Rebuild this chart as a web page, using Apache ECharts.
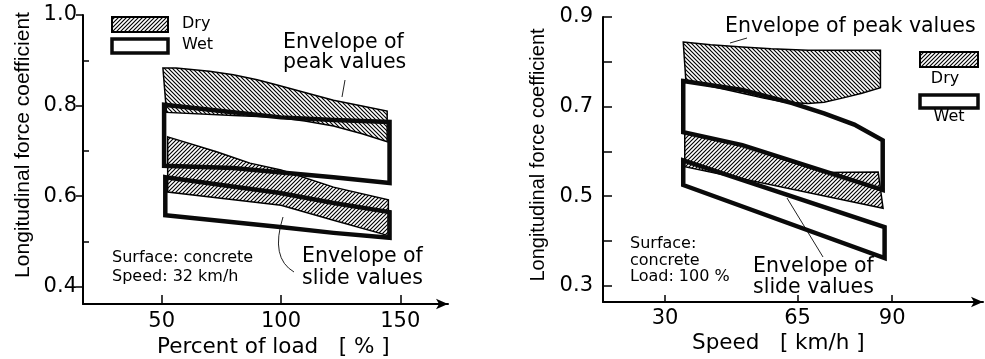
<!DOCTYPE html>
<html>
<head>
<meta charset="utf-8">
<script src="https://cdn.jsdelivr.net/npm/echarts@6/dist/echarts.min.js"></script>
<style>
html,body{margin:0;padding:0;background:#fff;}
#chart{width:985px;height:359px;}
</style>
</head>
<body>
<div id="chart"></div>
<script>
// ---------- Left panel: Percent of load (Speed 32 km/h) ----------
const loadTicks = [50, 100, 150];
const loadMajorY = [0.4, 0.6, 0.8, 1.0];
const loadMinorY = [0.5, 0.7, 0.9];

const loadDryPeakUpper = [[50.5,0.883],[56,0.883],[70,0.876],[80,0.868],[90,0.857],[98,0.846],[110,0.829],[122,0.812],[134,0.799],[144.5,0.788]];
const loadDryPeakLower = [[52,0.785],[80,0.778],[98,0.774],[110,0.766],[122,0.755],[134,0.738],[144.5,0.720]];
const loadWetPeakUpper = [[51,0.802],[75,0.788],[100,0.774],[122,0.768],[145.5,0.764]];
const loadWetPeakLower = [[51,0.667],[80,0.662],[99,0.653],[122,0.642],[145.5,0.629]];

const loadDrySlideUpper = [[52.5,0.731],[73,0.698],[87,0.673],[100,0.658],[122,0.620],[145,0.592]];
const loadDrySlideLower = [[52.5,0.609],[100,0.580],[122,0.547],[145,0.513]];
const loadWetSlideUpper = [[51.5,0.642],[99.6,0.607],[122,0.585],[145.5,0.565]];
const loadWetSlideLower = [[51.5,0.558],[99.6,0.532],[122,0.519],[145.5,0.508]];

// ---------- Right panel: Speed (Load 100 %) ----------
const speedTicks = [30, 65, 90];
const speedMajorY = [0.3, 0.5, 0.7, 0.9];
const speedAllY = [0.3, 0.4, 0.5, 0.6, 0.7, 0.8, 0.9];

const speedDryPeakUpper = [[34.8,0.844],[42,0.838],[50.4,0.833],[58,0.829],[67.8,0.826],[86.9,0.826]];
const speedDryPeakLower = [[35.5,0.757],[43,0.744],[50.4,0.730],[56,0.719],[61.7,0.710],[67.8,0.707],[72,0.710],[76.8,0.719],[82,0.730],[86.9,0.742]];
const speedWetPeakUpper = [[34.8,0.757],[50.4,0.737],[63.6,0.708],[72,0.685],[80,0.660],[87.5,0.625]];
const speedWetPeakLower = [[34.8,0.643],[50.4,0.614],[87.5,0.514]];

const speedDrySlideUpper = [[35.2,0.641],[50.4,0.613],[72,0.553],[86.3,0.554]];
const speedDrySlideLower = [[35.2,0.566],[87.6,0.473]];
const speedWetSlideUpper = [[34.8,0.580],[88,0.431]];
const speedWetSlideLower = [[34.8,0.525],[88,0.362]];

// ---------- helpers ----------
function makeHatch(dir, size, color, lw) {
  const c = document.createElement('canvas');
  c.width = size; c.height = size;
  const ctx = c.getContext('2d');
  ctx.strokeStyle = color; ctx.lineWidth = lw;
  ctx.beginPath();
  if (dir === '/') {
    ctx.moveTo(0, size); ctx.lineTo(size, 0);
    ctx.moveTo(-1, 1); ctx.lineTo(1, -1);
    ctx.moveTo(size - 1, size + 1); ctx.lineTo(size + 1, size - 1);
  } else {
    ctx.moveTo(0, 0); ctx.lineTo(size, size);
    ctx.moveTo(-1, size - 1); ctx.lineTo(1, size + 1);
    ctx.moveTo(size - 1, -1); ctx.lineTo(size + 1, 1);
  }
  ctx.stroke();
  return { image: c, repeat: 'repeat' };
}
const hatchBack = makeHatch('\\', 4, '#000', 1.15);
const hatchFwd = makeHatch('/', 4, '#000', 1.15);

function bandSeries(name, bands, xi, yi, kind) {
  return {
    type: 'custom', name: name, coordinateSystem: 'cartesian2d',
    xAxisIndex: xi, yAxisIndex: yi, clip: false, silent: true,
    data: bands.map(b => b.upper[0]),
    renderItem: function (params, api) {
      const b = bands[params.dataIndex];
      const pts = b.upper.concat(b.lower.slice().reverse()).map(p => api.coord(p));
      const style = kind === 'dry'
        ? { fill: b.hatch, stroke: '#000', lineWidth: 1.5, lineJoin: 'miter' }
        : { fill: 'none', stroke: '#0a0a0a', lineWidth: 4.5, lineJoin: 'miter' };
      return { type: 'polygon', shape: { points: pts }, style: style };
    }
  };
}

const FONT = "'DejaVu Sans', sans-serif";
const FONT2 = "'Liberation Sans', Arial, sans-serif";

function xAxisCfg(gi, min, max, ticks, tickLen, margin) {
  return {
    gridIndex: gi, type: 'value', min: min, max: max,
    axisLine: { show: true, lineStyle: { color: '#000', width: 2 }, symbol: ['none', 'arrow'], symbolSize: [8, 12] },
    axisTick: { show: true, inside: true, length: tickLen, customValues: ticks, lineStyle: { color: '#000', width: 1.5 } },
    axisLabel: { customValues: ticks, margin: margin, color: '#000', fontSize: 21, fontFamily: FONT },
    splitLine: { show: false }
  };
}
function yAxisCfg(gi, min, max, ticks, labels, inside, tickLen, showLine, showLabel, margin) {
  return {
    gridIndex: gi, type: 'value', min: min, max: max, position: 'left',
    axisLine: { show: showLine, lineStyle: { color: '#000', width: 2 } },
    axisTick: { show: true, inside: inside, length: tickLen, customValues: ticks, lineStyle: { color: '#000', width: 1.5 } },
    axisLabel: { show: showLabel, customValues: labels, margin: margin, color: '#000', fontSize: 21, fontFamily: FONT,
      formatter: v => Number(v).toFixed(1) },
    splitLine: { show: false }
  };
}

const leftDry = [
  { upper: loadDryPeakUpper, lower: loadDryPeakLower, hatch: hatchBack },
  { upper: loadDrySlideUpper, lower: loadDrySlideLower, hatch: hatchFwd }
];
const leftWet = [
  { upper: loadWetPeakUpper, lower: loadWetPeakLower },
  { upper: loadWetSlideUpper, lower: loadWetSlideLower }
];
const rightDry = [
  { upper: speedDryPeakUpper, lower: speedDryPeakLower, hatch: hatchBack },
  { upper: speedDrySlideUpper, lower: speedDrySlideLower, hatch: hatchFwd }
];
const rightWet = [
  { upper: speedWetPeakUpper, lower: speedWetPeakLower },
  { upper: speedWetSlideUpper, lower: speedWetSlideLower }
];

function txt(x, y, s, size, align) {
  return {
    type: 'text', silent: true,
    style: { x: x, y: y, text: s, fontSize: size, fontFamily: FONT, fill: '#000', textAlign: align || 'left', textVerticalAlign: 'middle' }
  };
}

const chart = echarts.init(document.getElementById('chart'), null, { renderer: 'canvas' });
chart.setOption({
  animation: false,
  backgroundColor: '#fff',
  grid: [
    { left: 83, top: 15, width: 365, height: 289 },
    { left: 603, top: 17, width: 380, height: 285 }
  ],
  xAxis: [
    xAxisCfg(0, 17, 170, loadTicks, 9, 7),
    xAxisCfg(1, 13.6, 114, speedTicks, 7, 6)
  ],
  yAxis: [
    yAxisCfg(0, 0.362, 1.0, loadMajorY, loadMajorY, false, 7, true, true, 6),
    yAxisCfg(0, 0.362, 1.0, loadMinorY, [], true, 6, false, false, 6),
    yAxisCfg(1, 0.264, 0.9, speedAllY, speedMajorY, true, 9, true, true, 10)
  ],
  series: [
    bandSeries('Dry', leftDry, 0, 0, 'dry'),
    bandSeries('Wet', leftWet, 0, 0, 'wet'),
    bandSeries('Dry', rightDry, 1, 2, 'dry'),
    bandSeries('Wet', rightWet, 1, 2, 'wet')
  ],
  graphic: [
    // axis titles
    { type: 'text', silent: true, x: 23, y: 145, rotation: Math.PI / 2,
      style: { x: 0, y: 0, text: 'Longitudinal force coefficient', fontSize: 21, fontFamily: FONT2, fill: '#000', textAlign: 'center', textVerticalAlign: 'middle' } },
    { type: 'text', silent: true, x: 538, y: 155, rotation: Math.PI / 2,
      style: { x: 0, y: 0, text: 'Longitudinal force coefficient', fontSize: 20, fontFamily: FONT2, fill: '#000', textAlign: 'center', textVerticalAlign: 'middle' } },
    txt(157, 347, 'Percent of load   [ % ]', 21.5),
    txt(692, 343, 'Speed   [ km/h ]', 21.5),
    // annotations left
    txt(283, 43, 'Envelope of', 20.5),
    txt(283, 63, 'peak values', 20.5),
    txt(302, 257, 'Envelope of', 20.5),
    txt(302, 279, 'slide values', 20.5),
    txt(112, 258, 'Surface: concrete', 16),
    txt(112, 277, 'Speed: 32 km/h', 16),
    // annotations right
    txt(725, 27, 'Envelope of peak values', 20.5),
    txt(753, 267, 'Envelope of', 20.5),
    txt(753, 288, 'slide values', 20.5),
    txt(630, 244, 'Surface:', 16),
    txt(630, 261, 'concrete', 16),
    txt(630, 277, 'Load: 100 %', 16),
    // leader lines
    { type: 'line', silent: true, shape: { x1: 345, y1: 80, x2: 342, y2: 97 }, style: { stroke: '#222', lineWidth: 1 } },
    { type: 'bezierCurve', silent: true, shape: { x1: 283, y1: 217, cpx1: 270, cpy1: 258, x2: 294, y2: 272 }, style: { stroke: '#222', lineWidth: 1, fill: 'none' } },
    { type: 'line', silent: true, shape: { x1: 730, y1: 43, x2: 747, y2: 38 }, style: { stroke: '#222', lineWidth: 1 } },
    { type: 'line', silent: true, shape: { x1: 787, y1: 198, x2: 823, y2: 257 }, style: { stroke: '#222', lineWidth: 1 } },
    // legend left
    { type: 'rect', silent: true, shape: { x: 112, y: 17, width: 56, height: 15 }, style: { fill: hatchFwd, stroke: '#000', lineWidth: 2 } },
    txt(182, 24, 'Dry', 16),
    { type: 'rect', silent: true, shape: { x: 112, y: 39, width: 56, height: 14 }, style: { fill: '#fff', stroke: '#0a0a0a', lineWidth: 3.5 } },
    txt(182, 45, 'Wet', 16),
    // legend right
    { type: 'rect', silent: true, shape: { x: 920, y: 52, width: 58, height: 15 }, style: { fill: hatchFwd, stroke: '#000', lineWidth: 2 } },
    txt(945, 79, 'Dry', 16, 'center'),
    { type: 'rect', silent: true, shape: { x: 920, y: 95, width: 58, height: 13 }, style: { fill: '#fff', stroke: '#0a0a0a', lineWidth: 3.5 } },
    txt(949, 117, 'Wet', 16, 'center')
  ]
});
</script>
</body>
</html>
